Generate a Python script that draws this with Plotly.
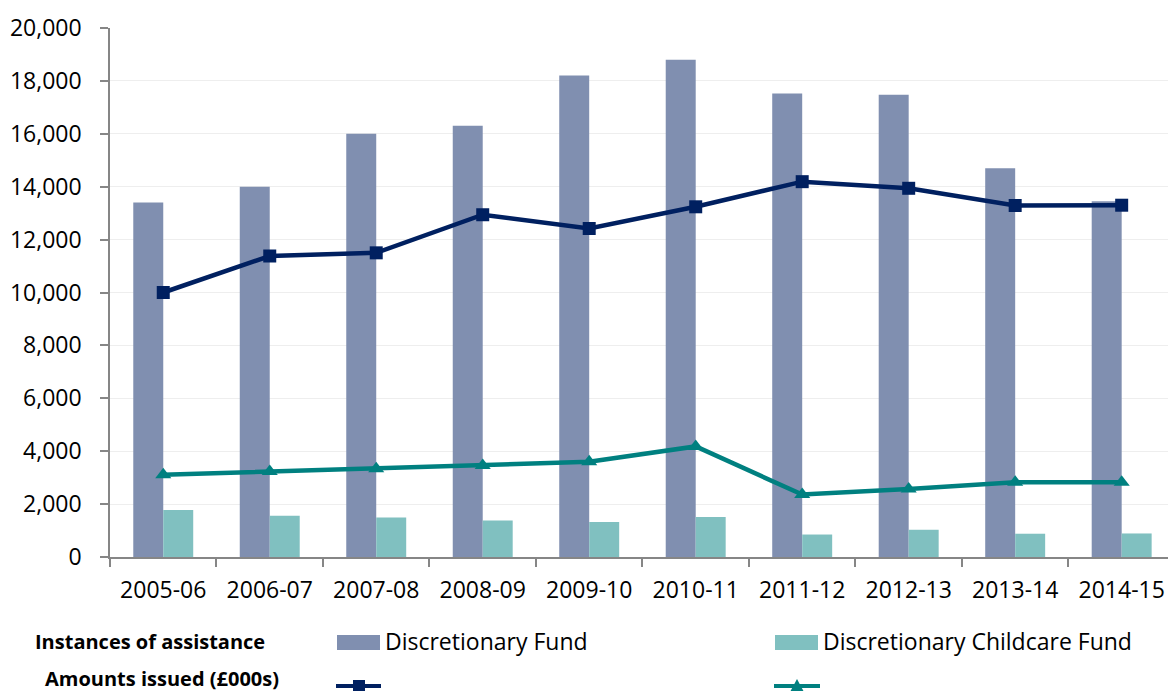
import plotly.graph_objects as go

# ---------------- data ----------------
years = ["2005-06", "2006-07", "2007-08", "2008-09", "2009-10",
         "2010-11", "2011-12", "2012-13", "2013-14", "2014-15"]
df_instances = [13400, 14000, 16000, 16300, 18200, 18800, 17520, 17480, 14700, 13450]
cc_instances = [1780, 1560, 1490, 1380, 1320, 1510, 850, 1030, 880, 890]
df_amounts = [10000, 11380, 11500, 12940, 12420, 13240, 14190, 13940, 13290, 13300]
cc_amounts = [3110, 3230, 3340, 3460, 3600, 4180, 2360, 2570, 2830, 2830]
y_ticks = list(range(0, 20001, 2000))

# ---------------- style ----------------
W, H = 1168, 691
ML, MR, MT, MB = 110, 0, 28, 134
PW, PH = W - ML - MR, H - MT - MB
FONT = "Open Sans, Lato, DejaVu Sans, sans-serif"
NAVY = "#002060"
TEAL = "#008080"
NAVY_BAR = "#808FB0"
TEAL_BAR = "#80C0C0"
AXIS = "#868686"


def xp(px):
    return (px - ML) / PW


def yp(py):
    return (H - MB - py) / PH


fig = go.Figure()
fig.add_trace(go.Bar(x=years, y=df_instances, name="Discretionary Fund",
                     marker=dict(color=NAVY_BAR, line=dict(width=0))))
fig.add_trace(go.Bar(x=years, y=cc_instances, name="Discretionary Childcare Fund",
                     marker=dict(color=TEAL_BAR, line=dict(width=0))))
fig.add_trace(go.Scatter(x=years, y=df_amounts, mode="lines+markers",
                         name="Discretionary Fund (£000s)",
                         line=dict(color=NAVY, width=4.5),
                         marker=dict(symbol="square", size=13, color=NAVY)))
fig.add_trace(go.Scatter(x=years, y=cc_amounts, mode="lines+markers",
                         name="Discretionary Childcare Fund (£000s)",
                         line=dict(color=TEAL, width=4.5),
                         marker=dict(symbol="triangle-up", size=14, color=TEAL)))

# ---------------- custom legend ----------------
shapes = []
annotations = []

# row labels
annotations.append(dict(text="<b>Instances of assistance</b>", x=xp(34), y=yp(641),
                        xref="paper", yref="paper", xanchor="left", yanchor="middle",
                        showarrow=False, borderpad=0,
                        font=dict(family=FONT, size=20, color="black")))
annotations.append(dict(text="<b>Amounts issued (£000s)</b>", x=xp(44), y=yp(678),
                        xref="paper", yref="paper", xanchor="left", yanchor="middle",
                        showarrow=False, borderpad=0,
                        font=dict(family=FONT, size=20, color="black")))

# bar legend entries
for x0, x1, col, label in [(337, 380, NAVY_BAR, "Discretionary Fund"),
                           (775, 818, TEAL_BAR, "Discretionary Childcare Fund")]:
    shapes.append(dict(type="rect", xref="paper", yref="paper",
                       x0=xp(x0), x1=xp(x1), y0=yp(650), y1=yp(635),
                       fillcolor=col, line=dict(width=0)))
    annotations.append(dict(text=label, x=xp(x1 + 3), y=yp(641),
                            xref="paper", yref="paper", xanchor="left", yanchor="middle",
                            showarrow=False,
                            font=dict(family=FONT, size=23, color="black")))

# line legend entries
shapes.append(dict(type="line", xref="paper", yref="paper",
                   x0=xp(336), x1=xp(381), y0=yp(686), y1=yp(686),
                   line=dict(color=NAVY, width=4)))
shapes.append(dict(type="rect", xref="paper", yref="paper",
                   x0=xp(353), x1=xp(365), y0=yp(692), y1=yp(680),
                   fillcolor=NAVY, line=dict(width=0)))
shapes.append(dict(type="line", xref="paper", yref="paper",
                   x0=xp(774), x1=xp(820), y0=yp(686), y1=yp(686),
                   line=dict(color=TEAL, width=4)))
tri = "M {:.5f},{:.5f} L {:.5f},{:.5f} L {:.5f},{:.5f} Z".format(
    xp(797), yp(679), xp(804), yp(692), xp(790), yp(692))
shapes.append(dict(type="path", xref="paper", yref="paper", path=tri,
                   fillcolor=TEAL, line=dict(width=0)))

fig.update_layout(
    width=W, height=H,
    margin=dict(l=ML, r=MR, t=MT, b=MB, autoexpand=False),
    paper_bgcolor="white", plot_bgcolor="white",
    barmode="group", bargap=0.437, bargroupgap=0,
    showlegend=False,
    font=dict(family=FONT, size=23, color="black"),
    shapes=shapes, annotations=annotations,
    xaxis=dict(type="category", range=[-0.5, 9.435],
               showline=True, linecolor=AXIS, linewidth=1.5,
               ticks="outside", tickson="boundaries", ticklen=8,
               tickcolor=AXIS, tickwidth=1.5, showgrid=False,
               tickfont=dict(family=FONT, size=23, color="black"),
               ticklabelstandoff=12),
    yaxis=dict(range=[0, 20000], tickvals=y_ticks, tickformat=",d",
               showline=True, linecolor=AXIS, linewidth=1.5,
               ticks="outside", ticklen=8, tickcolor=AXIS, tickwidth=1.5,
               showgrid=True, gridcolor="#EEEEEE", gridwidth=1.2,
               zeroline=False,
               tickfont=dict(family=FONT, size=23, color="black"),
               ticklabelstandoff=14),
)

fig.write_html("out.html",
               config={"displayModeBar": False},
               post_script="document.body.style.margin='0';"
                           "document.body.style.overflow='hidden';")
